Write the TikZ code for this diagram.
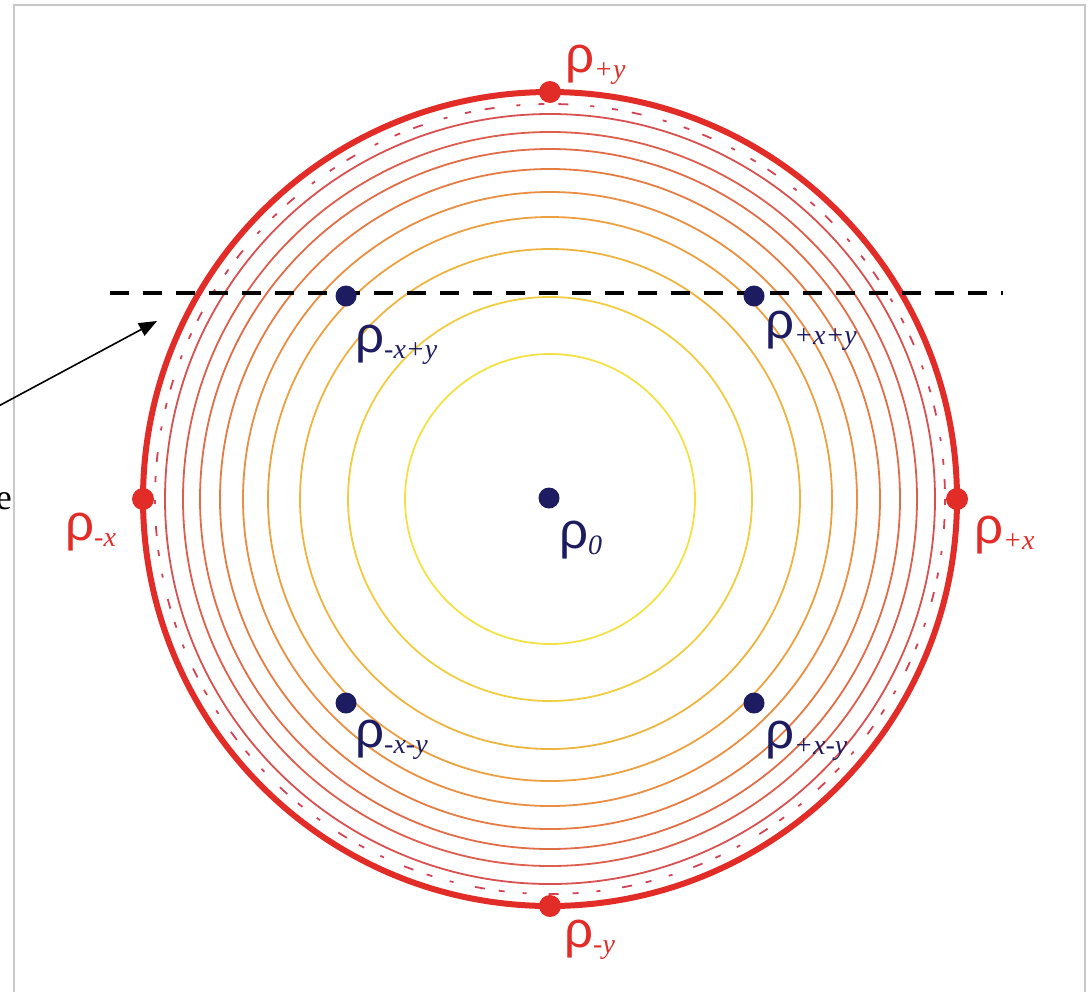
\documentclass[tikz,border=0pt]{standalone}
\usepackage{fontspec}
\setmainfont{Liberation Serif}
\newfontfamily\rhofont{Liberation Sans}
\usetikzlibrary{arrows.meta, calc}

\definecolor{rimred}{RGB}{226,44,40}
\definecolor{dotnavy}{RGB}{30,28,96}
\definecolor{framegray}{RGB}{200,200,200}
\definecolor{lv1}{RGB}{243,226,70}
\definecolor{lv2}{RGB}{241,205,66}
\definecolor{lv3}{RGB}{238,180,64}
\definecolor{lv4}{RGB}{236,160,64}
\definecolor{lv5}{RGB}{233,142,66}
\definecolor{lv6}{RGB}{229,124,68}
\definecolor{lv7}{RGB}{225,108,72}
\definecolor{lv8}{RGB}{221,94,76}
\definecolor{lv9}{RGB}{216,80,80}
\definecolor{lv10}{RGB}{210,68,84}

% rho with a lowered italic index
\newcommand{\rholab}[1]{{\fontsize{51}{51}\rhofont ρ}\raisebox{-6pt}{\fontsize{28}{28}\selectfont\itshape #1}}

\begin{document}
\begin{tikzpicture}[x=1pt, y=-1pt,
  reddot/.style={circle, fill=rimred, minimum size=22pt, inner sep=0pt},
  navydot/.style={circle, fill=dotnavy, minimum size=21pt, inner sep=0pt},
  redlab/.style={anchor=base west, inner sep=0pt, text=rimred},
  navylab/.style={anchor=base west, inner sep=0pt, text=dotnavy},
  contour/.style={line width=1.8pt}]
  \useasboundingbox (0,0) rectangle (1091,991);
  \clip (0,0) rectangle (1091,991);
  \draw[framegray, line width=1.5pt] (14,5) rectangle (1085,1010);

  \coordinate (ctr) at (550,499);
  % level lines
  \foreach \r/\c in {145/lv1, 202/lv2, 250/lv3, 282/lv4, 307/lv5, 330/lv6, 350/lv7, 367/lv8, 385/lv9}
    \draw[contour, \c] (ctr) circle[radius=\r];
  \draw[contour, lv10, dash pattern=on 6pt off 14pt on 10pt off 22pt on 4pt off 18pt] (ctr) circle[radius=395];
  \draw[rimred, line width=6pt] (ctr) circle[radius=407];

  % cutting line and pointer
  \coordinate (cutl) at (110,293);
  \coordinate (cutr) at (1003,293);
  \draw[line width=4pt, dash pattern=on 19pt off 14pt] (cutl) -- (cutr);
  \coordinate (ptrfrom) at (-20,416);
  \coordinate (ptrto) at (157,321);
  \draw[-{Triangle[length=18pt, width=14pt]}, line width=1.6pt] (ptrfrom) -- (ptrto);
  \node[anchor=base east, inner sep=0pt, font=\fontsize{36}{36}\selectfont] (cuttext) at (12,509) {e};

  % boundary points
  \node[reddot] (dpy) at (550,92) {};
  \node[reddot] (dmy) at (550,906) {};
  \node[reddot] (dmx) at (143,499) {};
  \node[reddot] (dpx) at (957,499) {};
  \node[redlab] (lpy) at ($(dpy)+(15,-20)$) {\rholab{+y}};
  \node[redlab] (lmy) at ($(dmy)+(14,41)$) {\rholab{-y}};
  \node[redlab] (lmx) at ($(dmx)+(-78,41)$) {\rholab{-x}};
  \node[redlab] (lpx) at ($(dpx)+(17,44)$) {\rholab{+x}};

  % interior points
  \node[navydot] (d0) at (549,498) {};
  \node[navydot] (dmxpy) at (346,296) {};
  \node[navydot] (dpxpy) at (754,296) {};
  \node[navydot] (dmxmy) at (346,703) {};
  \node[navydot] (dpxmy) at (754,703) {};
  \node[navylab] (l0) at ($(d0)+(10,50)$) {\rholab{0}};
  \node[navylab] (lmxpy) at ($(dmxpy)+(9,56)$) {\rholab{-x+y}};
  \node[navylab] (lpxpy) at ($(dpxpy)+(11,42)$) {\rholab{+x+y}};
  \node[navylab] (lmxmy) at ($(dmxmy)+(9,44)$) {\rholab{-x-y}};
  \node[navylab] (lpxmy) at ($(dpxmy)+(11,45)$) {\rholab{+x-y}};
\end{tikzpicture}
\end{document}
